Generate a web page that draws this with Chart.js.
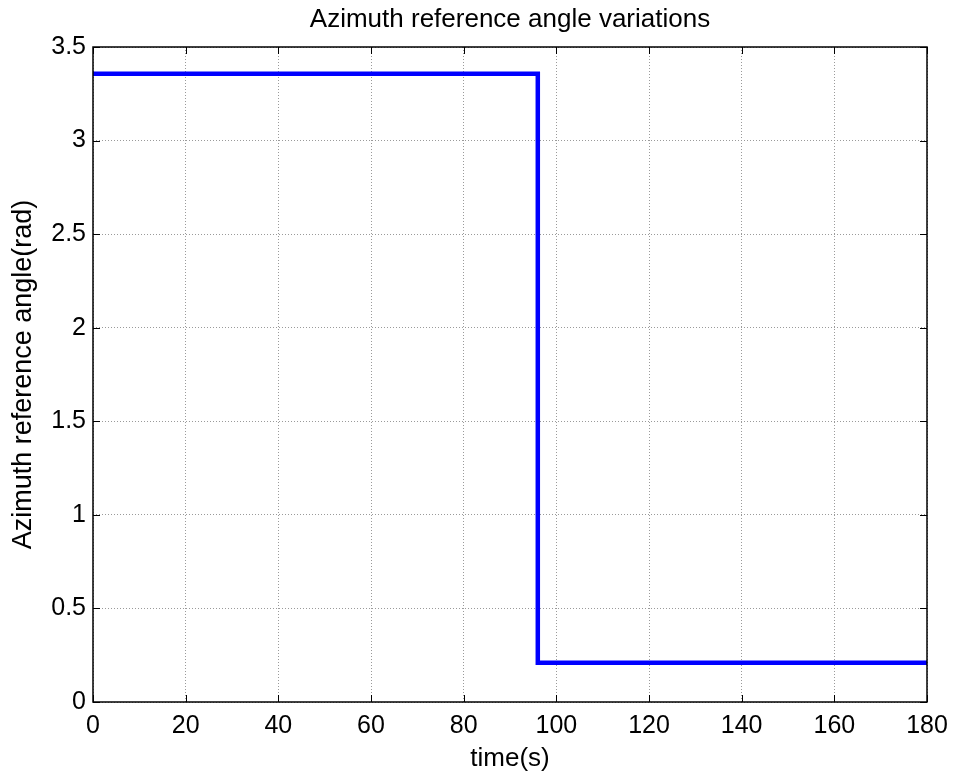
<!DOCTYPE html>
<html>
<head>
<meta charset="utf-8">
<script src="https://cdn.jsdelivr.net/npm/chart.js@4"></script>
<style>
  html, body { margin: 0; padding: 0; background: #fff; }
  #wrap { width: 953px; height: 774px; }
</style>
</head>
<body>
<div id="wrap"><canvas id="azChart" width="953" height="774"></canvas></div>
<script>
// ================================
// DATA
// ================================
const timeValues = [0, 96, 96, 180];
const angleValues = [3.357, 3.357, 0.21, 0.21];
const xTicks = [0, 20, 40, 60, 80, 100, 120, 140, 160, 180];
const yTicks = [0, 0.5, 1, 1.5, 2, 2.5, 3, 3.5];

const FONT = '"Liberation Sans", Arial, sans-serif';

// ================================
// BOX + INWARD TICKS (matlab style)
// ================================
const boxPlugin = {
    id: 'boxPlugin',
    afterDraw(chart) {
        const { ctx, chartArea: a, scales } = chart;
        const len = 7;
        ctx.save();
        ctx.strokeStyle = '#000';
        ctx.lineWidth = 1.5;
        ctx.strokeRect(a.left, a.top, a.right - a.left, a.bottom - a.top);
        ctx.lineWidth = 1;
        ctx.beginPath();
        xTicks.forEach(v => {
            const x = Math.round(scales.x.getPixelForValue(v)) + 0.5;
            ctx.moveTo(x, a.bottom); ctx.lineTo(x, a.bottom - len);
            ctx.moveTo(x, a.top); ctx.lineTo(x, a.top + len);
        });
        yTicks.forEach(v => {
            const y = Math.round(scales.y.getPixelForValue(v)) + 0.5;
            ctx.moveTo(a.left, y); ctx.lineTo(a.left + len, y);
            ctx.moveTo(a.right, y); ctx.lineTo(a.right - len, y);
        });
        ctx.stroke();
        ctx.restore();
    }
};

function noSidePadding(s) {
    s.paddingLeft = 0;
    s.paddingRight = 0;
    s.paddingTop = 0;
    s.paddingBottom = 0;
}

// ================================
// CHART
// ================================
new Chart(document.getElementById('azChart'), {
    type: 'line',
    data: {
        datasets: [{
            data: timeValues.map((t, i) => ({ x: t, y: angleValues[i] })),
            borderColor: '#0000ff',
            borderWidth: 4.5,
            pointRadius: 0,
            tension: 0,
            fill: false
        }]
    },
    options: {
        responsive: false,
        animation: false,
        layout: { padding: { left: 0, right: 26, top: 0, bottom: 0 } },
        plugins: {
            legend: { display: false },
            tooltip: { enabled: false }
        },
        scales: {
            x: {
                type: 'linear',
                min: 0,
                max: 180,
                afterFit: s => { s.height = 72; noSidePadding(s); },
                afterBuildTicks: s => { s.ticks = xTicks.map(v => ({ value: v })); },
                ticks: { color: '#000', padding: 9, maxRotation: 0, font: { family: FONT, size: 25 } },
                grid: { color: '#9a9a9a', lineWidth: 1, drawTicks: false },
                border: { display: false, dash: [1, 2] },
                title: {
                    display: true,
                    text: 'time(s)',
                    color: '#000',
                    font: { family: FONT, size: 26, lineHeight: 1.0 },
                    padding: { top: 0, bottom: 2 }
                }
            },
            // top axis only carries the chart title, centred over the plot
            xTop: {
                type: 'linear',
                position: 'top',
                min: 0,
                max: 180,
                afterFit: s => { s.height = 47; noSidePadding(s); },
                ticks: { display: false },
                grid: { display: false, drawTicks: false },
                border: { display: false },
                title: {
                    display: true,
                    text: 'Azimuth reference angle variations',
                    color: '#000',
                    font: { family: FONT, size: 26, lineHeight: 1.2 },
                    padding: { top: 4, bottom: 0 }
                }
            },
            y: {
                type: 'linear',
                min: 0,
                max: 3.5,
                afterFit: s => { s.width = 93; noSidePadding(s); },
                afterBuildTicks: s => { s.ticks = yTicks.map(v => ({ value: v })); },
                ticks: {
                    color: '#000',
                    padding: 7,
                    font: { family: FONT, size: 25 },
                    callback: v => String(v)
                },
                grid: { color: '#9a9a9a', lineWidth: 1, drawTicks: false },
                border: { display: false, dash: [1, 2] },
                title: {
                    display: true,
                    text: 'Azimuth reference angle(rad)',
                    color: '#000',
                    font: { family: FONT, size: 27, lineHeight: 1.2 },
                    padding: { top: 7, bottom: 0 }
                }
            }
        }
    },
    plugins: [boxPlugin]
});
</script>
</body>
</html>
